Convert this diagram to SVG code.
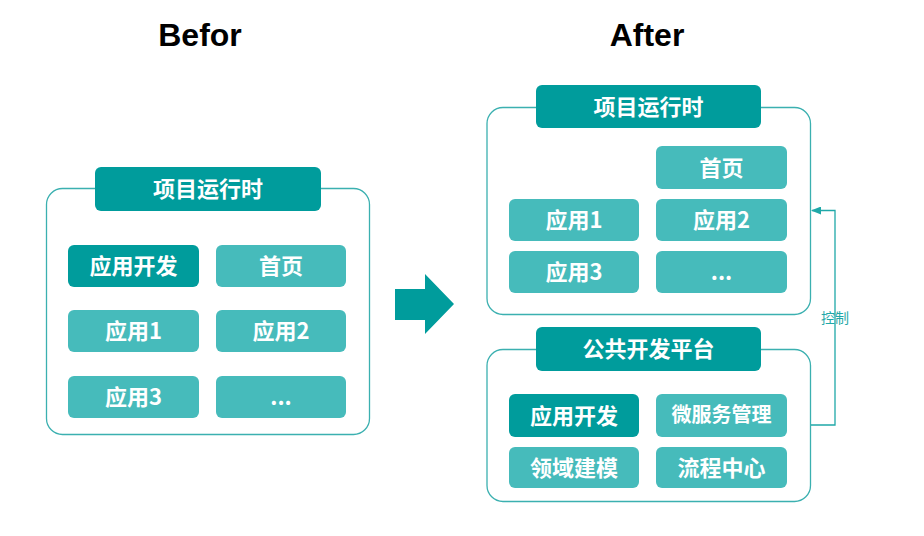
<svg xmlns="http://www.w3.org/2000/svg" width="924" height="536" viewBox="0 0 924 536">
<defs>
<style>
.frame{fill:#fff;stroke:#3BB0B0;stroke-width:1.3}
.dark{fill:#009C9C}
.light{fill:#46BBBB}
.t{font-family:"Noto Sans CJK SC","Liberation Sans",sans-serif;font-weight:bold;font-size:22px;fill:#fff;text-anchor:middle;dominant-baseline:central}
.h{font-family:"Liberation Sans",Arial,sans-serif;font-weight:bold;font-size:32px;fill:#000;text-anchor:middle}
.conn{fill:none;stroke:#1FA8A8;stroke-width:1.3}
.lbl{font-family:"Noto Sans CJK SC","Liberation Sans",sans-serif;font-size:14px;fill:#1FA8A8;text-anchor:middle;dominant-baseline:central}
</style>
<marker id="ah" markerWidth="10" markerHeight="8" refX="9" refY="4" orient="auto" markerUnits="userSpaceOnUse">
<path d="M0,0 L10,4 L0,8 Z" fill="#1FA8A8"/>
</marker>
</defs>
<rect width="924" height="536" fill="#fff"/>
<text class="h" x="200" y="46">Befor</text>
<text class="h" x="647" y="46">After</text>

<g id="before">
<rect class="frame" x="46.5" y="188.5" width="323" height="246" rx="16"/>
<g id="b-title"><rect class="dark" x="95" y="167" width="226" height="44" rx="6"/><text class="t" x="208" y="187">项目运行时</text></g>
<g id="b-appdev"><rect class="dark" x="68" y="245" width="131" height="42" rx="6"/><text class="t" x="133.5" y="264">应用开发</text></g>
<g id="b-home"><rect class="light" x="216" y="245" width="130" height="42" rx="6"/><text class="t" x="281" y="264">首页</text></g>
<g id="b-app1"><rect class="light" x="68" y="310" width="131" height="42" rx="6"/><text class="t" x="133.5" y="329">应用1</text></g>
<g id="b-app2"><rect class="light" x="216" y="310" width="130" height="42" rx="6"/><text class="t" x="281" y="329">应用2</text></g>
<g id="b-app3"><rect class="light" x="68" y="376" width="131" height="42" rx="6"/><text class="t" x="133.5" y="395">应用3</text></g>
<g id="b-more"><rect class="light" x="216" y="376" width="130" height="42" rx="6"/><text class="t" x="281" y="395">...</text></g>
</g>

<g id="big-arrow">
<path class="dark" d="M395,289 H425 V274 L454,304 L425,334 V320 H395 Z"/>
</g>

<g id="runtime">
<rect class="frame" x="487" y="107.5" width="323.5" height="207" rx="16"/>
<g id="r-title"><rect class="dark" x="536" y="85" width="225" height="43" rx="6"/><text class="t" x="648.5" y="104.5">项目运行时</text></g>
<g id="r-home"><rect class="light" x="656" y="146" width="131" height="43" rx="6"/><text class="t" x="721.5" y="165.5">首页</text></g>
<g id="r-app1"><rect class="light" x="509" y="199" width="130" height="42" rx="6"/><text class="t" x="574" y="218">应用1</text></g>
<g id="r-app2"><rect class="light" x="656" y="199" width="131" height="42" rx="6"/><text class="t" x="721.5" y="218">应用2</text></g>
<g id="r-app3"><rect class="light" x="509" y="251" width="130" height="42" rx="6"/><text class="t" x="574" y="270">应用3</text></g>
<g id="r-more"><rect class="light" x="656" y="251" width="131" height="42" rx="6"/><text class="t" x="721.5" y="270">...</text></g>
</g>

<g id="platform">
<rect class="frame" x="487" y="349.5" width="323.5" height="152" rx="16"/>
<g id="p-title"><rect class="dark" x="536" y="327" width="225" height="44" rx="6"/><text class="t" x="648.5" y="347">公共开发平台</text></g>
<g id="p-appdev"><rect class="dark" x="509" y="394" width="130" height="43" rx="6"/><text class="t" x="574" y="413.5">应用开发</text></g>
<g id="p-micro"><rect class="light" x="656" y="394" width="131" height="43" rx="6"/><text class="t" x="721.5" y="413.5" style="font-size:20px">微服务管理</text></g>
<g id="p-domain"><rect class="light" x="509" y="447" width="130" height="41" rx="6"/><text class="t" x="574" y="465.5">领域建模</text></g>
<g id="p-flow"><rect class="light" x="656" y="447" width="131" height="41" rx="6"/><text class="t" x="721.5" y="465.5">流程中心</text></g>
</g>

<g id="connectors">
<path class="conn" d="M811,425 H835 V210.5 H812" marker-end="url(#ah)"/>
<text class="lbl" x="835" y="317">控制</text>
</g>
</svg>
